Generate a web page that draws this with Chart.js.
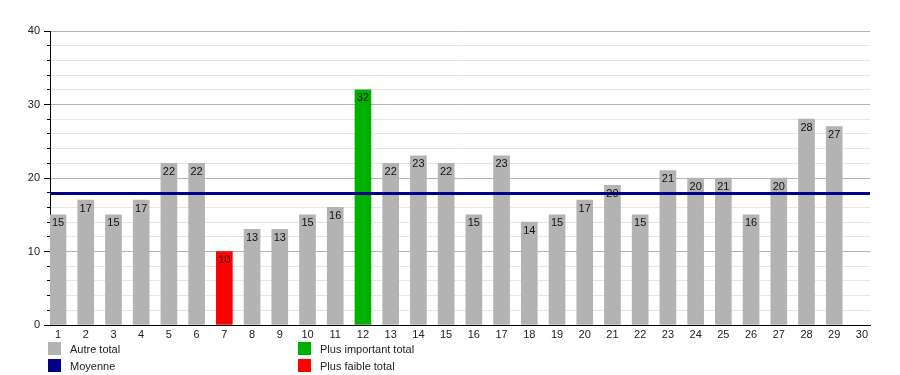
<!DOCTYPE html>
<html><head><meta charset="utf-8">
<script src="https://cdn.jsdelivr.net/npm/chart.js@4"></script>
<style>
html,body{margin:0;padding:0;background:#fff;}
#wrap{position:relative;width:900px;height:375px;}
#c{position:absolute;left:0;top:0;}
.lg{position:absolute;font:11px "Liberation Sans",Arial,sans-serif;color:#222;white-space:nowrap;line-height:13px;}
.sq{position:absolute;width:13px;height:13px;}
</style></head>
<body><div id="wrap"><canvas id="c" width="900" height="375"></canvas></div>
<script>
const categories = ['1','2','3','4','5','6','7','8','9','10','11','12','13','14','15','16','17','18','19','20','21','22','23','24','25','26','27','28','29','30'];
const barValues = [15,17,15,17,22,22,10,13,13,15,16,32,22,23,22,15,23,14,15,17,19,15,21,20,20,15,20,28,27,null];
const barLabels = ['15','17','15','17','22','22','10','13','13','15','16','32','22','23','22','15','23','14','15','17','20','15','21','20','21','16','20','28','27',''];
const meanValue = 17.9;
const yTicks = [0,10,20,30,40];
const legendNames = ['Autre total','Moyenne','Plus important total','Plus faible total'];

const GRAY='#b3b3b3', GREEN='#00b000', RED='#ff0000', NAVY='#000088';
const maxV = Math.max(...barValues.filter(v=>v!=null));
const minV = Math.min(...barValues.filter(v=>v!=null));
const colors = barValues.map(v => v===maxV?GREEN:(v===minV?RED:GRAY));
const xMin = 0.711, xMax = 30.29;

const labelPlugin = {
  id:'barLabels',
  afterDatasetsDraw(chart){
    const ctx = chart.ctx;
    const meta = chart.getDatasetMeta(1);
    ctx.save();
    ctx.font = '11px "Liberation Sans", Arial, sans-serif';
    ctx.fillStyle = '#111';
    ctx.textAlign = 'center';
    ctx.textBaseline = 'middle';
    meta.data.forEach((el,i)=>{
      if (barValues[i]==null) return;
      ctx.fillText(barLabels[i], el.x, el.y + 8.5);
    });
    ctx.restore();
  }
};

new Chart(document.getElementById('c'), {
  data:{
    datasets:[
      {type:'line', label:legendNames[1], data:[{x:xMin,y:meanValue},{x:xMax,y:meanValue}],
       borderColor:NAVY, borderWidth:3, pointRadius:0, order:1},
      {type:'bar', label:legendNames[0], data:barValues.map((v,i)=>({x:i+1,y:v})),
       backgroundColor:colors, barThickness:16, order:2}
    ]
  },
  options:{
    responsive:false, animation:false,
    layout:{padding:{top:31,right:30,left:0,bottom:0}},
    plugins:{legend:{display:false}, tooltip:{enabled:false}},
    scales:{
      x:{type:'linear', min:xMin, max:xMax, offset:false, bounds:'data',
        afterBuildTicks(s){ s.ticks = categories.map((c,i)=>({value:i+1})); },
        afterFit(s){ s.height = 50; },
        grid:{display:false, drawTicks:false, offset:false},
        border:{display:true, color:'#000', width:1},
        ticks:{padding:3, autoSkip:false, maxRotation:0, color:'#222',
          font:{family:'"Liberation Sans", Arial, sans-serif', size:11},
          callback:(v)=>categories[Math.round(v)-1]}
      },
      y:{min:0, max:40,
        afterBuildTicks(s){ const t=[]; for(let v=0;v<=40;v+=2) t.push({value:v}); s.ticks=t; },
        afterFit(s){ s.width = 50; },
        grid:{color:(c)=> (c.tick && c.tick.value%10===0)?'#b4b4b4':'#e6e6e6',
          tickColor:'#000', tickLength:6, drawTicks:true,
          tickBorderDash:(c)=> (c.tick && c.tick.value%10===0)?[]:[0,3,3,0]},
        border:{display:true, color:'#000', width:1},
        ticks:{padding:4, color:'#222', autoSkip:false,
          font:{family:'"Liberation Sans", Arial, sans-serif', size:11},
          callback:(v)=> yTicks.includes(v)?String(v):''}
      }
    }
  },
  plugins:[labelPlugin]
});

// HTML legend
const wrap = document.getElementById('wrap');
const legendColors = [GRAY, NAVY, GREEN, RED];
const pos = [[48,342],[48,359],[298,342],[298,359]];
legendNames.forEach((n,i)=>{
  const sq=document.createElement('div'); sq.className='sq';
  sq.style.left=pos[i][0]+'px'; sq.style.top=pos[i][1]+'px'; sq.style.background=legendColors[i];
  wrap.appendChild(sq);
  const t=document.createElement('div'); t.className='lg'; t.textContent=n;
  t.style.left=(pos[i][0]+22)+'px'; t.style.top=(pos[i][1]+1)+'px';
  wrap.appendChild(t);
});
</script></body></html>
